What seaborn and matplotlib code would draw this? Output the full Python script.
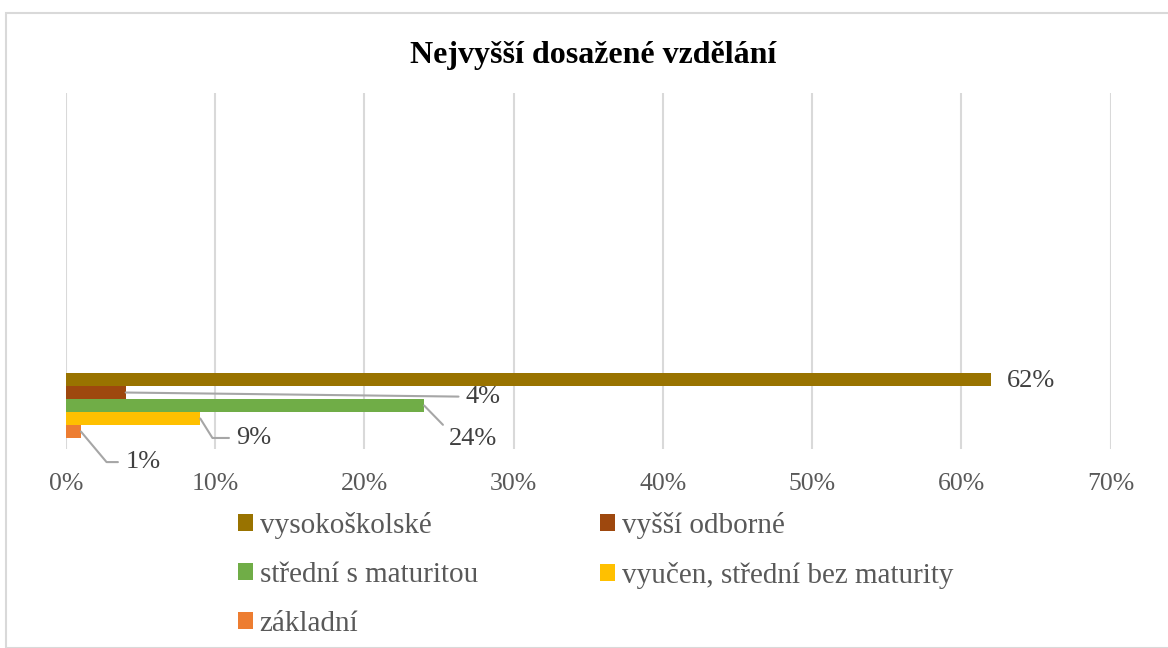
import pandas as pd
import matplotlib
matplotlib.use('Agg')
import matplotlib.pyplot as plt
import seaborn as sns
from matplotlib.patches import Rectangle

urovne = ['vysokoškolské', 'vyšší odborné', 'střední s maturitou',
          'vyučen, střední bez maturity', 'základní']
podily = [62, 4, 24, 9, 1]
barvy = ['#997300', '#9E480E', '#70AD47', '#FFC000', '#ED7D31']
xticky = [0, 10, 20, 30, 40, 50, 60, 70]

sns.set_theme(style='white')
plt.rcParams['font.family'] = ['Liberation Serif', 'DejaVu Serif']

df = pd.DataFrame({'kat': [''] * len(urovne), 'uroven': urovne, 'podil': podily})

fig = plt.figure(figsize=(11.68, 6.48), dpi=100)
ax = fig.add_axes([0.0565, 0.3071, 0.8943, 0.5494])

sns.barplot(data=df, x='podil', y='kat', hue='uroven', hue_order=urovne,
            palette=barvy, orient='h', width=0.8, saturation=1, linewidth=0,
            ax=ax, legend=True)

ax.set_xlim(0, 70)
ax.set_ylim(0.535, -3.846)
ax.set_xticks(xticky)
ax.set_xticklabels([f'{t}%' for t in xticky], fontsize=18.5, color='#595959')
ax.set_yticks([])
ax.set_xlabel('')
ax.set_ylabel('')
ax.tick_params(axis='x', length=0, pad=17)
ax.grid(axis='x', color='#D9D9D9', linewidth=1.5)
ax.set_axisbelow(True)
for s in ax.spines.values():
    s.set_visible(False)

# popisky hodnot s vodicimi carami: (dx, dy v bodech, styl cary, relpos)
popisky = [
    ((11, -1), None, None),
    ((245, -3), 'arc3', (0, 0.5)),
    ((18, -24), 'arc3', (0, 0.85)),
    ((26, -14), 'angle,angleA=0,angleB=-58,rad=0', (0, 0.5)),
    ((32, -22), 'angle,angleA=0,angleB=-50,rad=0', (0, 0.5)),
]
for patch, hodnota, (off, styl, rp) in zip(ax.patches, podily, popisky):
    yc = patch.get_y() + patch.get_height() / 2
    w = patch.get_width()
    if styl is None:
        ax.annotate(f'{hodnota}%', (w, yc), xytext=off, textcoords='offset points',
                    fontsize=19, color='#404040', va='center', ha='left')
    else:
        ax.annotate(f'{hodnota}%', (w, yc), xytext=off, textcoords='offset points',
                    fontsize=19, color='#404040', va='center', ha='left',
                    arrowprops=dict(arrowstyle='-', color='#A6A6A6', lw=1.5,
                                    shrinkA=3, shrinkB=0, relpos=rp,
                                    connectionstyle=styl))

h, l = ax.get_legend_handles_labels()
ax.legend_.remove()
poradi = [0, 2, 4, 1, 3]
fig.legend([h[i] for i in poradi], [l[i] for i in poradi], ncol=2,
           loc='upper left', bbox_to_anchor=(0.2038, 0.210), frameon=False,
           borderaxespad=0, borderpad=0,
           fontsize=21, labelcolor='#595959', handlelength=0.5, handleheight=0.5,
           handletextpad=0.24, columnspacing=4.2, labelspacing=0.79)

fig.text(0.508, 1 - 55 / 648, 'Nejvyšší dosažené vzdělání', ha='center', va='center',
         fontsize=23, fontweight='bold', color='black')

fig.patches.append(Rectangle((6 / 1168, 0), 1.2, 1 - 13 / 648, transform=fig.transFigure,
                             fill=False, edgecolor='#D9D9D9', linewidth=1.5))

fig.savefig('out.png', dpi=100)
